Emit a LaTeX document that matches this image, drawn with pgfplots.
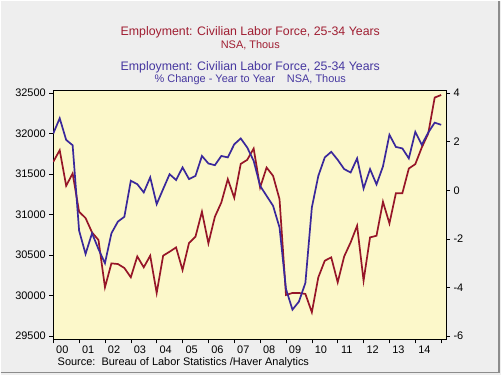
\documentclass[border=0pt]{standalone}
\usepackage{fontspec}
\setmainfont{Liberation Sans}
\usepackage{pgfplots}
\pgfplotsset{compat=1.18}
\definecolor{bgc}{RGB}{238,238,238}
\definecolor{plotbg}{RGB}{252,248,202}
\definecolor{redc}{RGB}{150,22,40}
\definecolor{bluec}{RGB}{58,40,155}
\definecolor{redt}{RGB}{160,30,50}
\definecolor{bluet}{RGB}{70,55,160}
\pgfplotstableread{
x red
2000.00 31650
2000.25 31794
2000.50 31355
2000.75 31507
2001.00 31035
2001.25 30957
2001.50 30780
2001.75 30686
2002.00 30103
2002.25 30398
2002.50 30390
2002.75 30341
2003.00 30226
2003.25 30484
2003.50 30349
2003.75 30493
2004.00 30033
2004.25 30493
2004.50 30542
2004.75 30595
2005.00 30316
2005.25 30649
2005.50 30727
2005.75 31035
2006.00 30645
2006.25 30973
2006.50 31149
2006.75 31437
2007.00 31207
2007.25 31625
2007.50 31675
2007.75 31814
2008.00 31334
2008.25 31580
2008.50 31478
2008.75 31190
2009.00 30008
2009.25 30033
2009.50 30033
2009.75 30021
2010.00 29795
2010.25 30226
2010.50 30431
2010.75 30472
2011.00 30164
2011.25 30484
2011.50 30657
2011.75 30862
2012.00 30185
2012.25 30718
2012.50 30739
2012.75 31158
2013.00 30891
2013.25 31264
2013.50 31264
2013.75 31568
2014.00 31622
2014.25 31827
2014.50 31999
2014.75 32443
2015.00 32475
}\redtable
\pgfplotstableread{
x pct
2000.00 2.33
2000.25 2.96
2000.50 2.07
2000.75 1.85
2001.00 -1.66
2001.25 -2.62
2001.50 -1.77
2001.75 -2.42
2002.00 -3.00
2002.25 -1.77
2002.50 -1.29
2002.75 -1.09
2003.00 0.39
2003.25 0.25
2003.50 -0.09
2003.75 0.53
2004.00 -0.57
2004.25 0.05
2004.50 0.66
2004.75 0.42
2005.00 0.94
2005.25 0.46
2005.50 0.59
2005.75 1.41
2006.00 1.10
2006.25 1.03
2006.50 1.41
2006.75 1.35
2007.00 1.89
2007.25 2.13
2007.50 1.76
2007.75 1.21
2008.00 0.18
2008.25 -0.23
2008.50 -0.64
2008.75 -1.53
2009.00 -4.06
2009.25 -4.91
2009.50 -4.58
2009.75 -3.81
2010.00 -0.71
2010.25 0.59
2010.50 1.35
2010.75 1.58
2011.00 1.25
2011.25 0.87
2011.50 0.73
2011.75 1.31
2012.00 0.07
2012.25 0.87
2012.50 0.24
2012.75 0.98
2013.00 2.28
2013.25 1.78
2013.50 1.72
2013.75 1.31
2014.00 2.40
2014.25 1.87
2014.50 2.37
2014.75 2.78
2015.00 2.69
}\bluetable
\begin{document}
\begin{tikzpicture}
\fill[bgc] (0bp,0bp) rectangle (501bp,375bp);
\draw[black!45, line width=1.2bp] (0bp,2.3bp) -- (499bp,2.3bp) -- (499bp,375bp);
\node[redt, font=\fontsize{12.4}{14}\selectfont] at (250bp,343bp) {Employment: Civilian Labor Force, 25-34 Years};
\node[redt, font=\fontsize{11}{13}\selectfont] at (250bp,330.5bp) {NSA, Thous};
\node[bluet, font=\fontsize{12.4}{14}\selectfont] at (250bp,308bp) {Employment: Civilian Labor Force, 25-34 Years};
\node[bluet, font=\fontsize{11}{13}\selectfont] at (250bp,295.5bp) {\% Change - Year to Year\hspace{1.1em}NSA, Thous};
\node[anchor=west, font=\fontsize{11}{13}\selectfont, inner sep=0pt] at (57bp,12bp) {Source:\ \ Bureau of Labor Statistics /Haver Analytics};
\begin{axis}[
  at={(52.7bp,35.7bp)}, anchor=south west,
  scale only axis, width=393.3bp, height=249.5bp,
  xmin=2000, xmax=2015.19, ymin=29459, ymax=32533,
  scaled ticks=false,
  axis background/.style={fill=plotbg},
  axis line style={line width=0.9bp},
  tick align=outside,
  xtick pos=left, ytick pos=left,
  major tick length=4bp, minor tick length=2.2bp,
  tick style={black, line width=0.6bp},
  xtick={2000,2001,...,2015}, xticklabels={},
  minor x tick num=3,
  extra x ticks={2000.35,2001.35,2002.35,2003.35,2004.35,2005.35,2006.35,2007.35,2008.35,2009.35,2010.35,2011.35,2012.35,2013.35,2014.35},
  extra x tick labels={00,01,02,03,04,05,06,07,08,09,10,11,12,13,14},
  extra x tick style={major tick length=0pt, xticklabel style={yshift=-2.5bp}},
  ytick={29500,30000,30500,31000,31500,32000,32500},
  yticklabels={29500,30000,30500,31000,31500,32000,32500},
  ticklabel style={font=\fontsize{11}{13}\selectfont},
]
\addplot[redc, line width=1.7bp] table[x=x, y=red] {\redtable};
\end{axis}
\begin{axis}[
  at={(52.7bp,35.7bp)}, anchor=south west,
  scale only axis, width=393.3bp, height=249.5bp,
  xmin=2000, xmax=2015.19, ymin=-6.137, ymax=4.11,
  scaled ticks=false,
  axis x line=none, axis y line*=right,
  axis line style={line width=0.9bp, -},
  tick align=outside,
  major tick length=4bp,
  tick style={black, line width=0.6bp},
  ytick={-6,-4,-2,0,2,4},
  yticklabels={-6,-4,-2,0,2,4},
  ticklabel style={font=\fontsize{11}{13}\selectfont},
]
\addplot[bluec, line width=1.7bp] table[x=x, y=pct] {\bluetable};
\end{axis}
\end{tikzpicture}
\end{document}
